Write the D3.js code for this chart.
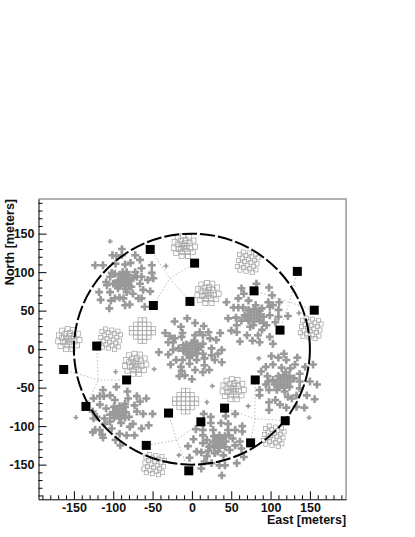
<!DOCTYPE html>
<html>
<head>
<meta charset="utf-8">
<script src="https://cdn.jsdelivr.net/npm/d3@7"></script>
<style>
body { margin: 0; background: #fff; }
svg { display: block; }
text { font-family: "Liberation Sans", Arial, sans-serif; font-weight: bold; font-size: 12.5px; fill: #111; }
</style>
</head>
<body>
<svg id="array"></svg>
<script>
var width = 415;
var height = 537;
var margin = {top: 199, right: 69, bottom: 38, left: 38.5};

var majorTicks = [-150, -100, -50, 0, 50, 100, 150];
var minorTicks = [-190, -180, -170, -160, -140, -130, -120, -110, -90, -80, -70, -60, -40, -30, -20, -10,
    10, 20, 30, 40, 60, 70, 80, 90, 110, 120, 130, 140, 160, 170, 180, 190];
var ringRadius = 150;

// big black detectors, east / north in meters
var stations = [[-53, 129.5], [-49, 56.7], [-2.5, 62], [-121, 4], [3.4, 111.7], [134, 101], [155.5, 50.6],
    [79, 75.7], [112, 24.7], [-163, -26.4], [-83, -40], [-134.7, -74.4], [-29.7, -83], [-58, -125],
    [-4, -158], [80.5, -40], [41.5, -76.6], [11.4, -94.4], [118.6, -93], [74.6, -121.7]];

// dotted cable runs
var cables = [
    [[-53, 129.5], [-28, 92], [-2.5, 62]],
    [[-49, 56.7], [-28, 92], [3.4, 111.7]],
    [[134, 101], [124, 61], [112, 24.7]],
    [[79, 75.7], [124, 61], [155.5, 50.6]],
    [[-163, -26.4], [-119, -40], [-83, -40]],
    [[-121, 4], [-119, -40], [-134.7, -74.4]],
    [[-29.7, -83], [-19.5, -118], [-58, -125]],
    [[-4, -158], [-19.5, -118], [11.4, -94.4]],
    [[41.5, -76.6], [80, -90], [118.6, -93]],
    [[80.5, -40], [80, -90], [74.6, -121.7]]
];

// the six dense clusters of plus marks
var clusterNW = [[-89,130],[-101,122],[-96,121],[-89,122],[-72,122],[-66,116],[-78,112],[-85,110],[-97,111],[-123,109],
    [-113,109],[-51,109],[-64,105],[-72,100],[-51,99],[-102,99],[-83,100],[-98,98],[-104,94],[-109,87],[-108,83],[-100,85],
    [-94,79],[-118,74],[-104,74],[-83,74],[-77,81],[-75,72],[-62,77],[-53,75],[-56,90],[-49,92],[-66,85],[-70,94],[-64,94],
    [-116,64],[-103,63],[-98,66],[-92,67],[-87,66],[-85,57],[-79,58],[-68,66],[-64,66],[-60,55],[-105,53],
    [-86,89],[-90,92],[-82,92],[-90,86],[-82,86],[-86,95],[-86,83],[-94,89],[-78,89],[-92,96],[-80,96],[-92,82],[-80,82],
    [-75,92],[-97,85],[-84,78],[-88,100]];
var clusterMid = [[-6,40],[-22,36],[4,34],[15,30],[-14,29],[-12,21],[21,22],[36,21],[-34,21],[-28,17],[-22,14],[-13,16],
    [10,22],[4,18],[14,18],[23,14],[31,12],[-30,9],[-24,9],[14,7],[-11,5],[25,1],[38,-1],[-42,-4],[-30,-7],[-24,-1],[-17,1],
    [33,-6],[25,-8],[14,-6],[-20,-14],[-27,-20],[-12,-14],[-3,-19],[6,-14],[16,-12],[29,-14],[38,-17],[16,-21],[-14,-23],
    [-13,-28],[4,-27],[-16,-35],[-9,-34],[14,-30],[22,-27],[0,-39],
    [0,0],[-4,4],[4,4],[-4,-4],[4,-4],[0,8],[0,-8],[-8,0],[8,0],[-7,6],[7,7],[-6,-7],[7,-6],[3,11],[-3,-11],[11,3],[-11,-2]];
var clusterNE = [[63,79],[82,85],[98,80],[66,72],[59,66],[102,70],[44,61],[72,63],[97,61],[111,61],[53,54],[59,54],[65,54],
    [99,55],[103,57],[110,51],[89,53],[46,40],[56,41],[63,37],[67,44],[99,44],[110,42],[122,43],[57,31],[50,24],[57,22],
    [70,18],[74,29],[89,25],[95,31],[99,16],[84,18],[61,10],[77,11],[86,9],[103,7],[91,34],[106,35],
    [79,44],[75,48],[83,48],[75,40],[83,40],[79,52],[79,36],[71,44],[87,44],[72,51],[86,50],[72,37],[86,37],[91,42],[68,42],[81,57],[78,31]];
var clusterE = [[117,-6],[101,-9],[110,-11],[120,-14],[134,-11],[103,-20],[94,-23],[88,-29],[114,-24],[131,-20],[144,-23],
    [154,-20],[125,-25],[137,-32],[96,-35],[97,-42],[103,-40],[94,-46],[150,-42],[159,-46],[137,-42],[86,-53],[98,-53],
    [86,-60],[108,-53],[137,-51],[146,-60],[156,-65],[106,-66],[122,-62],[127,-64],[112,-72],[98,-69],[98,-79],[120,-76],
    [133,-75],[143,-76],[133,-60],[118,-55],
    [117,-42],[113,-38],[121,-38],[113,-46],[121,-46],[117,-34],[117,-50],[109,-42],[125,-42],[110,-35],[124,-35],[110,-49],
    [124,-49],[130,-38],[105,-46],[119,-30]];
var clusterS = [[15,-84],[24,-88],[24,-96],[37,-96],[46,-97],[55,-84],[43,-87],[64,-100],[64,-107],[5,-104],[14,-105],[27,-105],
    [46,-105],[55,-105],[2,-117],[14,-112],[19,-118],[52,-116],[61,-120],[-5,-126],[14,-122],[55,-125],[63,-129],[22,-127],
    [48,-131],[6,-133],[12,-134],[21,-132],[29,-135],[40,-138],[19,-139],[-3,-141],[16,-146],[25,-148],[12,-155],[35,-151],
    [42,-151],[57,-148],[66,-140],[38,-164],
    [35,-120],[31,-116],[39,-116],[31,-124],[39,-124],[35,-112],[35,-128],[27,-120],[43,-120],[28,-113],[42,-113],[28,-127],
    [42,-127],[47,-112],[23,-126],[33,-133]];
var clusterSW = [[-113,-53],[-96,-49],[-82,-55],[-125,-64],[-117,-61],[-112,-61],[-104,-60],[-81,-64],[-70,-61],[-58,-64],
    [-98,-66],[-117,-72],[-109,-77],[-85,-71],[-66,-68],[-73,-73],[-126,-81],[-125,-90],[-121,-88],[-111,-90],[-62,-84],
    [-50,-84],[-70,-81],[-111,-97],[-104,-94],[-75,-97],[-55,-99],[-64,-103],[-79,-101],[-123,-105],[-126,-108],[-117,-105],
    [-114,-111],[-113,-115],[-92,-110],[-83,-112],[-73,-112],[-102,-103],[-97,-118],[-91,-125],
    [-92,-82],[-96,-78],[-88,-78],[-96,-86],[-88,-86],[-92,-74],[-92,-90],[-100,-82],[-84,-82],[-99,-75],[-85,-75],[-99,-89],
    [-85,-89],[-80,-88],[-104,-85],[-90,-96]];
var plusClusters = [clusterNW, clusterMid, clusterNE, clusterE, clusterS, clusterSW];

// lone small plus marks
var smallPlus = [[-103.8,140],[-33,108],[136,47],[-48,-26],[26,-48],[85,-12],[71.6,-74],[19,-69],[149,-89],[-147.5,-88.7],[-97,-29.4],[-16.5,-137.7]];

// square patches share a few layouts, offsets from patch centre in meters
var gridStraight = [[-2.8,14],[2.8,14],[-8.4,8.4],[-2.8,8.4],[2.8,8.4],[8.4,8.4],[-14,2.8],[-8.4,2.8],[-2.8,2.8],[2.8,2.8],[8.4,2.8],[14,2.8],
    [-14,-2.8],[-8.4,-2.8],[-2.8,-2.8],[2.8,-2.8],[8.4,-2.8],[14,-2.8],[-8.4,-8.4],[-2.8,-8.4],[2.8,-8.4],[8.4,-8.4],[-2.8,-14],[2.8,-14]];
var gridTilted = [[-5.7,13.1],[-10.3,9.9],[10.3,-9.9],[5.7,-13.1],[2.1,11.7],[-11.7,2.1],[11.7,-2.1],[-2.1,-11.7],[-2.5,8.5],[-7.1,5.3],[7.1,-5.3],[2.5,-8.5],
    [9.9,10.3],[13.1,5.7],[-13.1,-5.7],[-9.9,-10.3],[5.3,7.1],[8.5,2.5],[-8.5,-2.5],[-5.3,-7.1],[0.7,3.9],[3.9,-0.7],[-3.9,0.7],[-0.7,-3.9]];
var gridDense = [[-13,-3],[-12,5],[-8,11],[-1,13],[6,12],[12,7],[14,-1],[11,-8],[5,-13],[-3,-13],[-10,-9],
    [-7,-4],[-8,2],[-4,7],[2,8],[7,4],[8,-3],[4,-8],[-2,-8],[-4,-3],[-3,2],[1,4],[4,0],[1,-4],[0,0]];

var patchCenters = [[-10,134],[71,113],[20,73],[-157,13],[-104,13],[-63,24],[151,27],[-72,-19],[52,-52],[-8,-67.5],[104,-113],[-48,-150]];
var patchLayouts = [gridDense, gridTilted, gridDense, gridDense, gridTilted, gridStraight, gridTilted, gridDense, gridDense, gridStraight, gridTilted, gridTilted];

var plotW = width - margin.left - margin.right;
var plotH = height - margin.top - margin.bottom;

var x = d3.scaleLinear().domain([-195, 196]).range([margin.left, margin.left + plotW + 0.1]);
var y = d3.scaleLinear().domain([-195, 195]).range([margin.top + plotH + 0.3, margin.top]);

var svg = d3.select("#array")
    .attr("width", width)
    .attr("height", height);

// frame, top and right are greyer than the axes
svg.append("path")
    .attr("d", "M" + x(-195) + "," + y(195) + "H" + x(196) + "V" + y(-195))
    .attr("fill", "none")
    .attr("stroke", "#999")
    .attr("stroke-width", 1.5);

// axes
svg.append("g")
    .attr("transform", "translate(0," + y(-195) + ")")
    .call(d3.axisBottom(x).tickValues(minorTicks).tickSize(-4).tickFormat(""))
    .call(function(g) { g.select(".domain").remove(); });
svg.append("g")
    .attr("transform", "translate(0," + y(-195) + ")")
    .call(d3.axisBottom(x).tickValues(majorTicks).tickSize(-8).tickSizeOuter(0).tickPadding(4).tickFormat(String));
svg.append("g")
    .attr("transform", "translate(" + x(-195) + ",0)")
    .call(d3.axisLeft(y).tickValues(minorTicks).tickSize(-4).tickFormat(""))
    .call(function(g) { g.select(".domain").remove(); });
svg.append("g")
    .attr("transform", "translate(" + x(-195) + ",0)")
    .call(d3.axisLeft(y).tickValues(majorTicks).tickSize(-8).tickSizeOuter(0).tickPadding(4).tickFormat(String));

svg.append("text")
    .attr("x", x(196))
    .attr("y", 524)
    .attr("text-anchor", "end")
    .text("East [meters]");
svg.append("text")
    .attr("transform", "translate(14," + y(195) + ") rotate(-90)")
    .attr("text-anchor", "end")
    .text("North [meters]");

// cables under everything
var cableLine = d3.line()
    .x(function(d) { return x(d[0]); })
    .y(function(d) { return y(d[1]); })
    .curve(d3.curveLinear);
svg.append("g").selectAll("path")
    .data(cables)
  .enter().append("path")
    .attr("d", cableLine)
    .attr("fill", "none")
    .attr("stroke", "#bbb")
    .attr("stroke-width", 1)
    .attr("stroke-dasharray", "1.5,2");

// square patches, the open grids have smaller squares
var patches = svg.append("g").selectAll("g")
    .data(patchCenters)
  .enter().append("g");
patches.selectAll("rect")
    .data(function(d, i) {
        var side = patchLayouts[i] === gridDense ? 5 : 4.2;
        return patchLayouts[i].map(function(o) { return {east: d[0] + o[0], north: d[1] + o[1], side: side}; });
    })
  .enter().append("rect")
    .attr("x", function(d) { return x(d.east) - d.side / 2; })
    .attr("y", function(d) { return y(d.north) - d.side / 2; })
    .attr("width", function(d) { return d.side; })
    .attr("height", function(d) { return d.side; })
    .attr("fill", "none")
    .attr("stroke", "#aaa")
    .attr("stroke-width", 0.8);

// plus marks
var bigCross = d3.symbol().type(d3.symbolCross).size(34);
var smallCross = d3.symbol().type(d3.symbolCross).size(13);
svg.append("g").selectAll("path")
    .data(d3.merge(plusClusters))
  .enter().append("path")
    .attr("d", bigCross)
    .attr("fill", "#999")
    .attr("transform", function(d) { return "translate(" + x(d[0]) + "," + y(d[1]) + ")"; });
svg.append("g").selectAll("path")
    .data(smallPlus)
  .enter().append("path")
    .attr("d", smallCross)
    .attr("fill", "#999")
    .attr("transform", function(d) { return "translate(" + x(d[0]) + "," + y(d[1]) + ")"; });

// 150 m ring
svg.append("ellipse")
    .attr("cx", x(0))
    .attr("cy", y(0))
    .attr("rx", x(ringRadius) - x(0))
    .attr("ry", y(0) - y(ringRadius))
    .attr("fill", "none")
    .attr("stroke", "#000")
    .attr("stroke-width", 2)
    .attr("stroke-dasharray", "15,3");

// stations on top
svg.append("g").selectAll("rect")
    .data(stations)
  .enter().append("rect")
    .attr("x", function(d) { return x(d[0]) - 4.5; })
    .attr("y", function(d) { return y(d[1]) - 4.5; })
    .attr("width", 9)
    .attr("height", 9)
    .attr("fill", "#000");
</script>
</body>
</html>
